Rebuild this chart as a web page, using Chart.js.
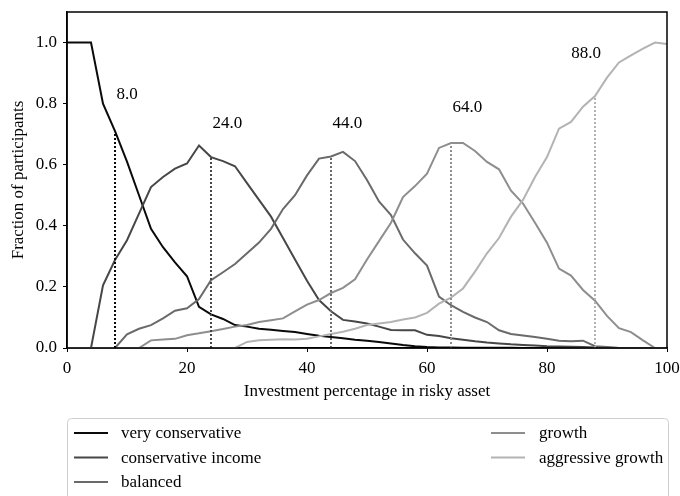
<!DOCTYPE html>
<html>
<head>
<meta charset="utf-8">
<script src="https://cdn.jsdelivr.net/npm/chart.js@4.4.1/dist/chart.umd.min.js"></script>
<style>
  html, body { margin: 0; padding: 0; background: #ffffff; }
  #wrap { width: 680px; height: 496px; position: relative; }
</style>
</head>
<body>
<div id="wrap"><canvas id="chart" width="680" height="496"></canvas></div>
<script>
// Investment percentage in the risky asset (x positions of every sample)
const riskPct = [0, 2, 4, 6, 8, 10, 12, 14, 16, 18,
                 20, 22, 24, 26, 28, 30, 32, 34, 36, 38,
                 40, 42, 44, 46, 48, 50, 52, 54, 56, 58,
                 60, 62, 64, 66, 68, 70, 72, 74, 76, 78,
                 80, 82, 84, 86, 88, 90, 92, 94, 96, 98,
                 100];

// Fraction of participants choosing each risky-asset share, per profile
const veryConservative = [1.0, 1.0, 1.0, 0.80, 0.71, 0.61, 0.50, 0.39, 0.33, 0.28,
                          0.235, 0.135, 0.11, 0.095, 0.075, 0.07, 0.063, 0.06, 0.056, 0.052,
                          0.046, 0.04, 0.036, 0.032, 0.027, 0.024, 0.02, 0.015, 0.01, 0.006,
                          0.003, 0.002, 0.002, 0.001, 0.001, 0.001, 0.001, 0.001, 0, 0,
                          0, 0, 0, 0, 0, 0, 0, 0, 0, 0,
                          0];
const conservativeIncome = [0, 0, 0, 0.205, 0.288, 0.353, 0.44, 0.527, 0.56, 0.587,
                            0.604, 0.663, 0.625, 0.612, 0.595, 0.54, 0.485, 0.43, 0.36, 0.29,
                            0.22, 0.157, 0.12, 0.092, 0.087, 0.08, 0.07, 0.059, 0.058, 0.058,
                            0.043, 0.039, 0.032, 0.027, 0.022, 0.018, 0.015, 0.012, 0.01, 0.008,
                            0.006, 0.005, 0.004, 0.003, 0.002, 0.001, 0, 0, 0, 0,
                            0];
const balanced = [0, 0, 0, 0, 0, 0.045, 0.063, 0.075, 0.097, 0.122,
                  0.13, 0.16, 0.222, 0.248, 0.275, 0.31, 0.345, 0.39, 0.455, 0.50,
                  0.565, 0.62, 0.627, 0.642, 0.612, 0.55, 0.48, 0.435, 0.355, 0.31,
                  0.27, 0.168, 0.14, 0.118, 0.10, 0.085, 0.058, 0.046, 0.041, 0.036,
                  0.03, 0.024, 0.022, 0.024, 0.006, 0.003, 0, 0, 0, 0,
                  0];
const growth = [0, 0, 0, 0, 0, 0, 0, 0.025, 0.028, 0.03,
                0.042, 0.048, 0.055, 0.062, 0.07, 0.075, 0.085, 0.091, 0.097, 0.12,
                0.142, 0.157, 0.18, 0.197, 0.225, 0.29, 0.35, 0.41, 0.494, 0.53,
                0.571, 0.655, 0.671, 0.671, 0.645, 0.609, 0.585, 0.515, 0.473, 0.41,
                0.345, 0.26, 0.237, 0.19, 0.155, 0.105, 0.065, 0.052, 0.025, 0,
                0];
const aggressiveGrowth = [0, 0, 0, 0, 0, 0, 0, 0, 0, 0,
                          0, 0, 0, 0, 0, 0.02, 0.025, 0.027, 0.029, 0.028,
                          0.03, 0.038, 0.046, 0.053, 0.063, 0.075, 0.08, 0.085, 0.093, 0.10,
                          0.115, 0.145, 0.165, 0.195, 0.25, 0.31, 0.36, 0.43, 0.485, 0.56,
                          0.625, 0.718, 0.74, 0.79, 0.825, 0.885, 0.935, 0.958, 0.98, 1.0,
                          0.995];

const seriesNames = ['very conservative', 'conservative income', 'balanced', 'growth', 'aggressive growth'];
const seriesValues = [veryConservative, conservativeIncome, balanced, growth, aggressiveGrowth];

// Reference shares marked with a dotted drop line, one per profile
const markerPct = [8, 24, 44, 64, 88];

const xTicks = [0, 20, 40, 60, 80, 100];
const yTicks = [0.0, 0.2, 0.4, 0.6, 0.8, 1.0];

const seriesColors = ['#0a0a0a', '#474747', '#6a6a6a', '#8e8e8e', '#b3b3b3'];
const FONT = "'Liberation Serif', 'DejaVu Serif', serif";

Chart.defaults.font.family = FONT;
Chart.defaults.font.size = 17;
Chart.defaults.color = '#000000';

const datasets = seriesValues.map((vals, i) => ({
  label: seriesNames[i],
  data: riskPct.map((x, j) => ({ x: x, y: vals[j] })),
  borderColor: seriesColors[i],
  backgroundColor: seriesColors[i],
  borderWidth: 2,
  pointRadius: 0,
  tension: 0,
  fill: false,
  order: 10 - i
}));

markerPct.forEach((x, i) => {
  const top = seriesValues[i][riskPct.indexOf(x)];
  datasets.push({
    label: '',
    isMarker: true,
    markerValue: top,
    data: [{ x: x, y: 0 }, { x: x, y: top }],
    borderColor: seriesColors[i],
    borderWidth: 2,
    borderDash: [2, 2],
    pointRadius: 0,
    fill: false,
    order: 0
  });
});

// Text labels above the drop lines plus the frame around the plot area
const annotate = {
  id: 'annotate',
  afterDatasetsDraw(chart) {
    const { ctx, chartArea, scales } = chart;
    ctx.save();
    ctx.font = '17px ' + FONT;
    ctx.fillStyle = '#000';
    ctx.textAlign = 'left';
    ctx.textBaseline = 'alphabetic';
    chart.data.datasets.forEach(ds => {
      if (!ds.isMarker) return;
      const x = ds.data[0].x;
      const text = x.toFixed(1);
      const w = ctx.measureText(text).width;
      let px = scales.x.getPixelForValue(x) + 1.5;
      px = Math.min(px, chartArea.right - 66 - w);
      const py = scales.y.getPixelForValue(ds.markerValue * 1.15);
      ctx.fillText(text, px, py);
    });
    ctx.strokeStyle = '#000';
    ctx.lineWidth = 1.5;
    ctx.strokeRect(chartArea.left, chartArea.top, chartArea.right - chartArea.left, chartArea.bottom - chartArea.top);
    ctx.restore();
  }
};

// Two-column legend box below the axis
const boxLegend = {
  id: 'boxLegend',
  afterDraw(chart) {
    const { ctx } = chart;
    ctx.save();
    const bx = 67.5, by = 418.5, bw = 601, bh = 90, r = 4;
    ctx.beginPath();
    ctx.moveTo(bx + r, by);
    ctx.lineTo(bx + bw - r, by);
    ctx.quadraticCurveTo(bx + bw, by, bx + bw, by + r);
    ctx.lineTo(bx + bw, by + bh);
    ctx.lineTo(bx, by + bh);
    ctx.lineTo(bx, by + r);
    ctx.quadraticCurveTo(bx, by, bx + r, by);
    ctx.closePath();
    ctx.fillStyle = 'rgba(255,255,255,0.8)';
    ctx.fill();
    ctx.strokeStyle = '#cfcfcf';
    ctx.lineWidth = 1;
    ctx.stroke();

    const rows = [433, 457.5, 482];
    const cols = [{ h0: 74, h1: 108, t: 121 }, { h0: 491, h1: 525, t: 539 }];
    ctx.font = '17px ' + FONT;
    ctx.textAlign = 'left';
    ctx.textBaseline = 'middle';
    const series = chart.data.datasets.filter(d => !d.isMarker);
    series.forEach((ds, i) => {
      const col = i < 3 ? cols[0] : cols[1];
      const y = rows[i < 3 ? i : i - 3];
      ctx.strokeStyle = ds.borderColor;
      ctx.lineWidth = 2;
      ctx.beginPath();
      ctx.moveTo(col.h0, y);
      ctx.lineTo(col.h1, y);
      ctx.stroke();
      ctx.fillStyle = '#000';
      ctx.fillText(ds.label, col.t, y + 1);
    });
    ctx.restore();
  }
};

new Chart(document.getElementById('chart'), {
  type: 'line',
  data: { datasets: datasets },
  plugins: [annotate, boxLegend],
  options: {
    responsive: false,
    animation: false,
    devicePixelRatio: 1,
    layout: { padding: { left: 0, right: 13, top: 12, bottom: 93 } },
    plugins: { legend: { display: false }, tooltip: { enabled: false } },
    scales: {
      x: {
        type: 'linear',
        min: 0,
        max: 100,
        afterBuildTicks: axis => { axis.ticks = xTicks.map(v => ({ value: v })); },
        afterFit: axis => { axis.height = 55; axis.paddingLeft = 0; axis.paddingRight = 0; },
        ticks: { padding: 6, color: '#000', font: { size: 17 }, callback: v => String(v), maxRotation: 0 },
        grid: { drawOnChartArea: false, drawTicks: true, tickLength: 4, color: '#000', lineWidth: 1 },
        border: { display: true, color: '#000', width: 1.5 },
        title: { display: true, text: 'Investment percentage in risky asset', color: '#000', font: { size: 17 }, padding: { top: 0, bottom: 1 } }
      },
      y: {
        type: 'linear',
        min: 0,
        max: 1.1,
        afterBuildTicks: axis => { axis.ticks = yTicks.map(v => ({ value: v })); },
        afterFit: axis => { axis.width = 67; axis.paddingTop = 0; axis.paddingBottom = 0; },
        ticks: { padding: 6, color: '#000', font: { size: 17 }, callback: v => Number(v).toFixed(1) },
        grid: { drawOnChartArea: false, drawTicks: true, tickLength: 4, color: '#000', lineWidth: 1 },
        border: { display: true, color: '#000', width: 1.5 },
        title: { display: true, text: 'Fraction of participants', color: '#000', font: { size: 17 }, padding: { top: 8, bottom: 0 } }
      }
    }
  }
});
</script>
</body>
</html>
